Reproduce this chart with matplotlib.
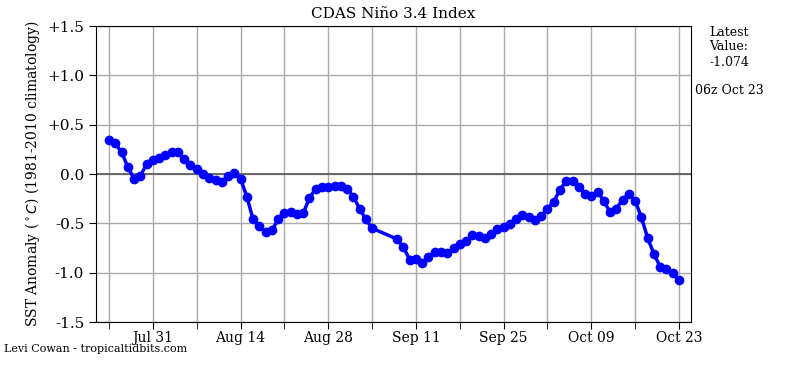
import numpy as np
import pandas as pd
import matplotlib
matplotlib.use("Agg")
import matplotlib.pyplot as plt
import matplotlib.dates as mdates

# daily Nino 3.4 values, Jul 24 .. Oct 23 (Sep 5-7 missing)
missing_days = ["2023-09-05", "2023-09-06", "2023-09-07"]
anomaly = [
    0.34, 0.31, 0.22, 0.07, -0.05, -0.02, 0.10, 0.14, 0.16, 0.19,
    0.22, 0.22, 0.15, 0.09, 0.05, 0.00, -0.04, -0.06, -0.08, -0.02,
    0.01, -0.05, -0.23, -0.46, -0.53, -0.59, -0.57, -0.46, -0.40, -0.39,
    -0.41, -0.40, -0.24, -0.15, -0.13, -0.13, -0.12, -0.12, -0.15, -0.23,
    -0.35, -0.46, -0.55,
    -0.66, -0.74, -0.87, -0.86, -0.90, -0.84, -0.79, -0.79, -0.80, -0.75,
    -0.71, -0.68, -0.62, -0.63, -0.65, -0.61, -0.56, -0.54, -0.51, -0.46,
    -0.42, -0.44, -0.47, -0.43, -0.35, -0.28, -0.16, -0.07, -0.07, -0.13,
    -0.20, -0.22, -0.18, -0.27, -0.39, -0.35, -0.26, -0.20, -0.27, -0.44,
    -0.65, -0.81, -0.94, -0.96, -1.00, -1.074,
]
dates = pd.date_range("2023-07-24", "2023-10-23", freq="D")
dates = dates[~dates.isin(pd.to_datetime(missing_days))]

ytick_vals = [-1.5, -1.0, -0.5, 0.0, 0.5, 1.0, 1.5]
ytick_labels = ["-1.5", "-1.0", "-0.5", "0.0", "+0.5", "+1.0", "+1.5"]
side_lines = ["Latest", "Value:", "-1.074"]

plt.rcParams["font.family"] = "DejaVu Serif"

fig = plt.figure(figsize=(7.87, 3.65), dpi=100)
ax = fig.add_axes([96 / 787, 1 - 322 / 365, 595 / 787, 296 / 365])

ax.plot(dates, anomaly, color="blue", lw=2.5, marker="o", ms=6, zorder=3)
ax.axhline(0, color="#555555", lw=1.2, zorder=2)

ax.set_xlim(pd.Timestamp("2023-07-21 22:00"), pd.Timestamp("2023-10-24 22:00"))
ax.set_ylim(-1.5, 1.5)
ax.set_yticks(ytick_vals)
ax.set_yticklabels(ytick_labels, fontsize=11)

major = pd.date_range("2023-07-31", "2023-10-23", freq="14D")
minor = pd.date_range("2023-07-24", "2023-10-23", freq="14D")
ax.set_xticks(major)
ax.set_xticks(minor, minor=True)
ax.xaxis.set_major_formatter(mdates.DateFormatter("%b %d"))
ax.tick_params(axis="x", which="both", length=5, labelsize=10, pad=1.5)
ax.tick_params(axis="y", length=5)
ax.grid(True, which="both", color="#aaaaaa", lw=1)
ax.set_axisbelow(True)

ax.set_title("CDAS Niño 3.4 Index", fontsize=11)
ax.set_ylabel("SST Anomaly ($^\\circ C$) (1981-2010 climatology)", fontsize=10)

# right-hand "latest value" box, one centred line at a time
for i, line in enumerate(side_lines):
    fig.text(729 / 787, 1 - (32 + 15 * i) / 365, line, ha="center", va="center", fontsize=9)
fig.text(729 / 787, 1 - 91 / 365, "06z Oct 23", ha="center", va="center", fontsize=9)
fig.text(4 / 787, 1 - 349 / 365, "Levi Cowan - tropicaltidbits.com", ha="left", va="center", fontsize=8)

fig.savefig("out.png", dpi=100)
